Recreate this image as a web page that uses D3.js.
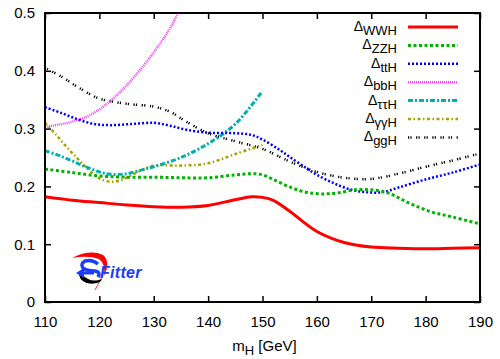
<!DOCTYPE html>
<html>
<head>
<meta charset="utf-8">
<script src="https://cdn.jsdelivr.net/npm/d3@7"></script>
<style>
  body { margin: 0; background: #fff; }
  svg { display: block; font-family: "Liberation Sans", Arial, sans-serif; }
</style>
</head>
<body>
<svg id="chart" width="500" height="359"></svg>
<script>
// ---- data ----
const xTicks = [110, 120, 130, 140, 150, 160, 170, 180, 190];
const yTicks = [0, 0.1, 0.2, 0.3, 0.4, 0.5];

const massWWH = [110, 115, 120, 125, 130, 135, 140, 145, 148, 150, 152, 155, 160, 165, 170, 175, 180, 185, 190];
const deltaWWH = [0.182, 0.176, 0.172, 0.168, 0.165, 0.164, 0.167, 0.177, 0.182, 0.181, 0.176, 0.157, 0.122, 0.103, 0.095, 0.093, 0.092, 0.093, 0.094];

const massZZH = [110, 115, 120, 125, 130, 135, 140, 145, 148, 150, 152, 155, 158, 161, 164, 167, 170, 173, 177, 181, 185, 190];
const deltaZZH = [0.230, 0.224, 0.218, 0.216, 0.216, 0.215, 0.215, 0.220, 0.222, 0.220, 0.212, 0.199, 0.190, 0.187, 0.189, 0.194, 0.194, 0.189, 0.171, 0.156, 0.147, 0.135];

const massTTH = [110, 113, 116, 119, 122, 126, 130, 133, 136, 140, 145, 148, 150, 153, 155, 158, 160, 163, 166, 169, 172, 175, 180, 185, 190];
const deltaTTH = [0.337, 0.327, 0.316, 0.308, 0.306, 0.308, 0.310, 0.305, 0.298, 0.293, 0.292, 0.289, 0.281, 0.264, 0.251, 0.232, 0.220, 0.206, 0.195, 0.190, 0.190, 0.198, 0.212, 0.224, 0.238];

const massBBH = [110, 112.5, 115, 118, 121, 124, 127, 130, 132.5, 134.5, 136];
const deltaBBH = [0.303, 0.307, 0.312, 0.322, 0.340, 0.365, 0.396, 0.432, 0.466, 0.500, 0.525];

const massTauH = [110, 113, 116, 118, 120, 122, 125, 128, 130, 135, 140, 145, 150];
const deltaTauH = [0.262, 0.252, 0.240, 0.232, 0.225, 0.221, 0.222, 0.229, 0.234, 0.250, 0.274, 0.308, 0.365];

const massGamH = [110, 112, 114, 116, 118, 120, 122, 124, 126, 128, 130, 135, 140, 145, 150];
const deltaGamH = [0.310, 0.290, 0.268, 0.248, 0.229, 0.214, 0.208, 0.211, 0.220, 0.229, 0.236, 0.236, 0.240, 0.256, 0.272];

const massGGH = [110, 113, 116, 120, 125, 130, 133, 136, 140, 145, 150, 155, 160, 165, 170, 175, 180, 185, 190];
const deltaGGH = [0.405, 0.390, 0.372, 0.352, 0.343, 0.338, 0.329, 0.312, 0.292, 0.278, 0.265, 0.243, 0.225, 0.215, 0.213, 0.222, 0.234, 0.245, 0.257];

const seriesNames = ['WWH', 'ZZH', 'ttH', 'bbH', 'ττH', 'γγH', 'ggH'];

// ---- layout ----
const margin = { top: 13, right: 20, bottom: 57, left: 45 };
const width = 500 - margin.left - margin.right;
const height = 359 - margin.top - margin.bottom;

const svg = d3.select('#chart');
const g = svg.append('g').attr('transform', `translate(${margin.left},${margin.top})`);

const x = d3.scaleLinear().domain([110, 190]).range([0, width]);
const y = d3.scaleLinear().domain([0, 0.5]).range([height, 0]);

svg.append('defs').append('clipPath').attr('id', 'plotClip')
  .append('rect').attr('width', width).attr('height', height);

// series styles (gnuplot-like)
const styles = [
  { color: '#ff0000', dash: null, w: 3 },
  { color: '#00b400', dash: '3,2.5', w: 3 },
  { color: '#0000ff', dash: '2,2', w: 2.5 },
  { color: '#ff40ff', dash: '1,1', w: 2.5 },
  { color: '#00b0b0', dash: '5,2,2,2', w: 3 },
  { color: '#a8a000', dash: '3,2.5,1.5,2.5', w: 2.5 },
  { color: '#000000', dash: '1.2,1.2,1.2,4.5', w: 2.5 },
];

const series = [
  [massWWH, deltaWWH],
  [massZZH, deltaZZH],
  [massTTH, deltaTTH],
  [massBBH, deltaBBH],
  [massTauH, deltaTauH],
  [massGamH, deltaGamH],
  [massGGH, deltaGGH],
];

const line = d3.line()
  .x(d => x(d[0]))
  .y(d => y(d[1]))
  .curve(d3.curveCatmullRom.alpha(0.5));

const plot = g.append('g').attr('clip-path', 'url(#plotClip)');

// draw in reverse so WWH ends on top
series.map((s, i) => ({ s, i })).reverse().forEach(({ s, i }) => {
  const pts = s[0].map((m, k) => [m, s[1][k]]);
  plot.append('path')
    .datum(pts)
    .attr('d', line)
    .attr('fill', 'none')
    .attr('stroke', styles[i].color)
    .attr('stroke-width', styles[i].w)
    .attr('stroke-dasharray', styles[i].dash);
});

// ---- axes: inward ticks, mirrored ----
const tickLen = 6;
const axB = g.append('g').attr('transform', `translate(0,${height})`)
  .call(d3.axisBottom(x).tickValues(xTicks).tickSizeInner(-tickLen).tickSizeOuter(0).tickPadding(10));
const axT = g.append('g')
  .call(d3.axisTop(x).tickValues(xTicks).tickSizeInner(-tickLen).tickSizeOuter(0).tickFormat(''));
const axL = g.append('g')
  .call(d3.axisLeft(y).tickValues(yTicks).tickSizeInner(-tickLen).tickSizeOuter(0).tickPadding(10)
    .tickFormat(d => d === 0 ? '0' : d3.format('.1f')(d)));
const axR = g.append('g').attr('transform', `translate(${width},0)`)
  .call(d3.axisRight(y).tickValues(yTicks).tickSizeInner(-tickLen).tickSizeOuter(0).tickFormat(''));

[axB, axT, axL, axR].forEach(a => {
  a.select('.domain').remove();
  a.selectAll('line').attr('stroke', '#000').attr('stroke-width', 1.5);
  a.selectAll('text').attr('fill', '#000').style('font-size', '15px')
    .style('font-family', '"Liberation Sans", Arial, sans-serif');
});
axB.selectAll('text').attr('dy', '1em');

// frame
g.append('rect')
  .attr('width', width).attr('height', height)
  .attr('fill', 'none').attr('stroke', '#000').attr('stroke-width', 2);

// x label
const xl = svg.append('text')
  .attr('x', margin.left + width / 2 + 2)
  .attr('y', 351)
  .attr('text-anchor', 'middle')
  .style('font-size', '15px')
  .attr('fill', '#000');
xl.append('tspan').text('m');
xl.append('tspan').attr('dy', 4).style('font-size', '13px').text('H');
xl.append('tspan').attr('dy', -4).text(' [GeV]');

// ---- legend ----
const legendRight = 397;
const legendY0 = 27;
const legendStep = 18.4;
const legend = svg.append('g');
seriesNames.forEach((name, i) => {
  const ly = legendY0 + i * legendStep;
  const t = legend.append('text')
    .attr('x', legendRight)
    .attr('y', ly + 4)
    .attr('text-anchor', 'end')
    .attr('fill', '#000')
    .style('font-size', '14px');
  t.append('tspan').text('Δ');
  t.append('tspan').attr('dy', 4).style('font-size', '13px').text(name);
  legend.append('line')
    .attr('x1', 408).attr('x2', 458)
    .attr('y1', ly).attr('y2', ly)
    .attr('stroke', styles[i].color)
    .attr('stroke-width', styles[i].w)
    .attr('stroke-dasharray', styles[i].dash);
});

// ---- SFitter logo (rough) ----
const logo = svg.append('g');
// red swoosh
logo.append('path')
  .attr('d', 'M72,258 Q90,249 103,255 Q111,262 104,276 Q106,264 99,259 Q88,255 72,258 Z')
  .attr('fill', '#ff0000');
logo.append('path')
  .attr('d', 'M103,275 L95,290')
  .attr('stroke', '#ff0000').attr('stroke-width', 0.8);
// black lower crescent
logo.append('path')
  .attr('d', 'M79,275 Q82,286 97,283 Q101,282 102,279 Q94,282 88,279 Q84,277 83,275 Z')
  .attr('fill', '#000');
// blue S with arrows
logo.append('path')
  .attr('d', 'M98,264 Q92,259 85,261 Q80,264 83,268 Q86,271 95,271 Q101,272 98,277')
  .attr('fill', 'none').attr('stroke', '#1a3cff').attr('stroke-width', 3.5);
logo.append('path')
  .attr('d', 'M76,273 L84,268 L84,278 Z')
  .attr('fill', '#1a3cff');
logo.append('path')
  .attr('d', 'M83,273 L94,273')
  .attr('stroke', '#1a3cff').attr('stroke-width', 3);
logo.append('text')
  .attr('x', 100).attr('y', 278)
  .attr('fill', '#1a3cff')
  .style('font-size', '16px')
  .style('font-weight', 'bold')
  .style('font-style', 'italic')
  .style('letter-spacing', '0.3px')
  .text('Fitter');
</script>
</body>
</html>
